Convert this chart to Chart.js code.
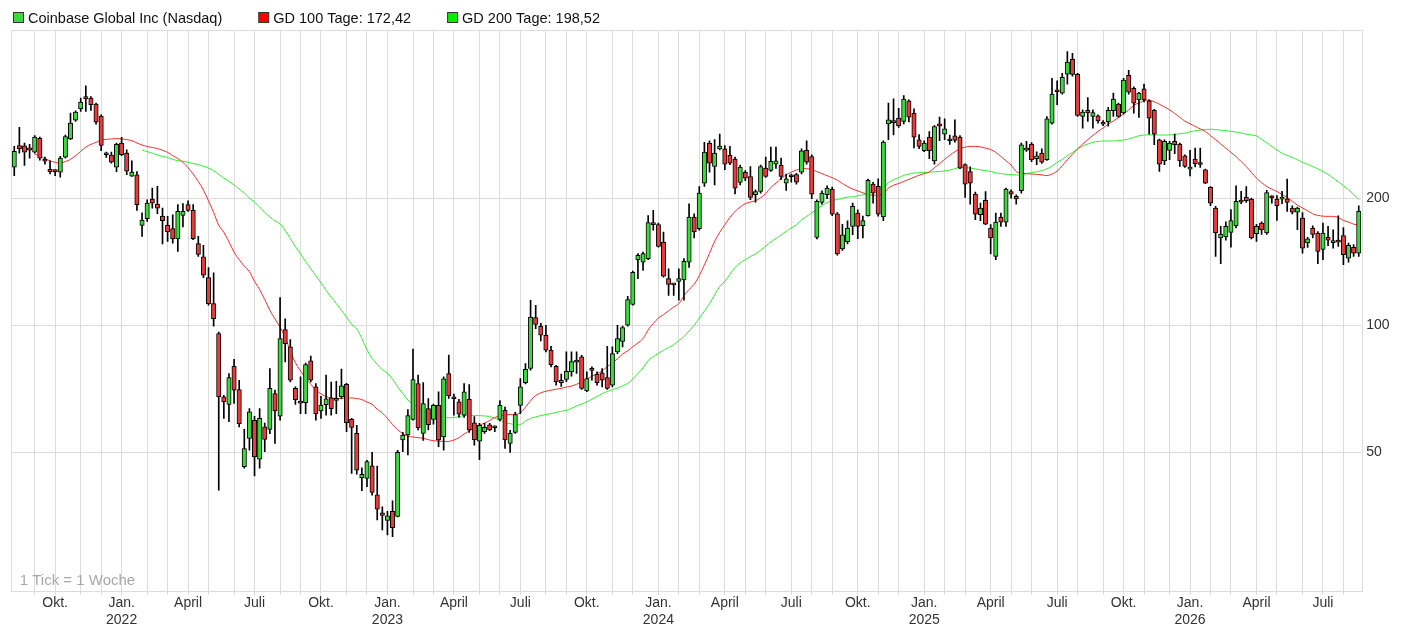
<!DOCTYPE html>
<html>
<head>
<meta charset="utf-8">
<script src="https://cdn.jsdelivr.net/npm/chart.js@4.4.1/dist/chart.umd.min.js"></script>
<style>
  html, body { margin: 0; padding: 0; background: #ffffff; }
  #wrap { width: 1410px; height: 634px; position: relative; }
</style>
</head>
<body>
<div id="wrap"><canvas id="c" width="1410" height="634"></canvas></div>
<script>
// ---------------- DATA ----------------
const startWeek = '2021-08-02';          // Monday of the first weekly candle
const seriesName = 'Coinbase Global Inc (Nasdaq)';
const ma100Name = 'GD 100 Tage';
const ma200Name = 'GD 200 Tage';
const noteText = '1 Tick = 1 Woche';
const quarterMonthLabels = { 0: 'Jan.', 3: 'April', 6: 'Juli', 9: 'Okt.' };
const yTickValues = [50, 100, 200];

const opens = [
236.8,266.4,266,263,256.9,277,246,234,231.5,230.4,
250,276,305.8,325.3,347.8,344.7,333.6,312.5,253.3,252.8,
236.8,270,255.5,225.4,227.1,172.4,178.7,198.9,193.5,181.3,
172.4,169.3,160,182,192.9,187,156,145.1,129.6,112.5,
95.6,67.7,65,80,70.4,46.3,54,59.6,48.2,57.5,
56.7,68.9,60.9,97.7,88.9,70.9,65.5,65.6,82.4,71.5,
62.7,64.9,67.3,66.5,67.7,72.5,59.9,55.5,43.6,43.4,
46.5,39.7,36,34.5,36.3,35.3,53.5,55,59.9,72.8,
55.5,63.5,59.9,64.6,54.4,76.9,67.2,65.9,61.3,66.9,
58.8,53.2,56,58.1,57.2,59.9,62.9,52.5,55.8,64.6,
73.1,79,104.3,99.5,94.7,87.3,80,73.1,74.4,77.6,
82.3,84.2,69.9,78.3,76.6,77.2,75.2,72.1,86.5,91.6,
100,112.1,143,141.1,143.8,174.9,173.2,157.4,128.9,124.8,
127,128,141.1,180.4,169.3,217,269.8,237.6,261.6,261.6,
252.4,247.2,217.8,230,225,203.7,207.3,235.5,232.5,240.6,
239.5,217,225,227.2,230.4,259.5,250.8,161.5,195.4,203.7,
210,183.5,151.5,157.8,171.3,184.3,172,181.6,215.8,213.1,
180.4,299.6,303,309.2,303.7,339.8,317.7,274.8,259,278.7,
245,297.6,283.5,274.3,280.8,278.7,239.9,231.2,204.4,182.6,
197.5,169.9,145.6,180.4,175.5,207.3,201.8,208.1,259.8,268.4,
247.9,255.4,246.4,300.9,358.2,354.3,392.8,426.3,392.8,311.9,
322.7,311.9,313,300.3,303.1,322,333.6,318.2,390.2,363.7,
341.6,362.5,339.8,322.8,274.8,245,259.3,272.3,268.4,251.8,
234.2,247.2,241,233.4,212.2,189.4,160.9,161.8,165.9,172,
197.2,201.1,198.9,164.7,174.5,165.3,201.1,198.9,198.9,199.3,
189.4,185.3,179.4,156.6,169.9,165.3,151.2,161.5,157.6,157.9,
163.1,144.2,153,148.2
];
const highs = [
265,294,270,268,281,279,250,245,233.4,251,
282,318,321.8,344.7,368.6,347.8,335.4,314.8,256.9,256.9,
270,278.3,260.2,245,231,184.6,198.2,211.2,213.2,189.4,
181,182.6,192.9,194,197,193,162.3,154.6,136.9,133,
96.3,68.3,76.9,83,74.1,56.7,63.5,60.9,63.5,58.7,
79,70.2,116.3,103.5,92.5,71.5,75.5,81.4,84.5,72.8,
67.9,76.2,73.4,73.7,78.8,72.9,60.2,58,46,47.9,
50,46.4,37.2,36.3,38.4,50.6,55.8,63.2,87.8,76.2,
73.2,67.1,65.1,69.6,75.5,85,68.7,66.8,72.8,72.4,
60.8,58.6,58.6,58.6,57.8,66.3,64,56.4,62.2,74.8,
81.2,114.6,111.5,101,100,89.2,80.4,76.6,86.5,86.5,
86.5,84.9,77.6,79.7,77.6,79,89.2,88.9,100,99.5,
117,134.4,147.7,149.1,181.8,187,174.4,166.2,136,125.4,
136,143.8,193.9,183.5,213,271,273.4,275,283.5,266.4,
265,250,239.4,232.3,237.6,209.2,239.4,250,264.2,264.2,
248.6,228,228,229,261.6,273.3,253,198.2,208,213.7,
212.3,184.8,173.4,176.6,194.7,187.7,181.2,221.8,217.8,222,
273.4,335.6,343.5,326.3,349.8,341.6,325.3,282.8,273.4,287.3,
296.8,310.9,308,282.1,306.5,281.2,241,237,206.6,194.6,
207.3,173,184.3,184.3,211.2,209.2,203.6,269.9,272.3,270.8,
257.4,261.4,311.9,384.2,378.8,394.6,444.4,440,394.6,323.3,
345.8,323.3,314.9,305.3,327.8,354.2,335.6,384.2,401.4,366.8,
356,372,341.6,324.5,276,274.8,272.3,283.5,269.8,253.3,
259.3,262.7,262.7,234.2,213,191.1,171.4,175.6,187.8,213.8,
207.4,213,200,173.3,175.6,208.5,202.6,202.6,207.4,221.8,
191.8,190.4,184.8,161.5,172,166.6,174.5,171.4,168.3,181.6,
170.2,156.6,155.2,191.8
];
const lows = [
226,255.5,239,248.6,255.5,246,240.6,228,226,224.2,
248.6,274.8,303.6,320.6,320.6,322.4,299.2,258.8,249.5,242,
231,251.9,227.1,225,187,162.3,176.2,189.4,183.6,155.8,
158,156.5,149.6,170.8,186,159.5,145.6,129.6,111.5,99.5,
40.7,60.2,59.1,65.3,57.5,45.9,50.6,44,45.9,50.2,
55.4,52.5,59.6,81.9,73.4,65,61.8,61.8,73.4,59.6,
60.2,61.3,61.3,61.8,67.1,56,44.6,44.4,40.6,41.5,
39.6,34.6,32.8,31.9,31.6,35.2,50.2,49.3,59.6,56.5,
53.4,56.5,58.3,51.6,50.6,67.1,61.3,60.5,60.5,55.8,
52,48.1,55.5,56.3,56,59.4,51.1,50,55.5,61.8,
72.6,78.3,98.2,91.8,86.5,79.7,72.1,71.7,73.5,75.8,
76.9,70.5,69.6,74.1,72.1,71.5,70.5,71.5,85.7,88.9,
99.5,111.5,128.9,134.9,143,167.8,153,130,117.7,117.7,
114.6,114.6,137.1,160.9,168,213,230.3,215,260,233.4,
240,204.7,215,219.8,198.2,195.7,205.5,223.9,231.3,235,
221,208.5,218.2,215.6,228,240.6,199.3,160,193.5,199.3,
181.7,146.6,150.3,155.7,163.8,160.3,161,181.2,194.6,181.2,
176.8,274.8,282,294,299.6,303,262.7,261.9,257.5,247.8,
240.6,273.4,274.8,268,271.3,234.7,200.7,193.5,177.9,176.8,
173,147.5,143,171.4,171.4,200,193.5,205.5,258,244,
239.9,241.6,245.6,299.2,332.5,352.4,372,388.6,311.9,292.9,
303.7,292.9,300.9,296.8,296.1,311.9,310.2,315.8,352.4,317.7,
310.2,337.8,283.5,267.4,231.2,239.9,246.4,254.7,237.6,236.4,
225.8,237,236.4,216.3,191.8,145.6,139.9,159,153,170,
193.9,195.3,160.1,158,164,164,194.6,177.1,193.9,185.9,
183.5,168.3,148.2,152.9,160.9,139.9,142.9,154.4,152.3,153.7,
139.1,141,145.6,145.6
];
const closes = [
257.9,261.6,256.9,259.8,279,248.6,244.6,231,231,248.6,
279.6,300.9,319.4,337.3,343.5,332.5,302.5,266.4,255,243.3,
268.2,253.3,231.7,230.4,192.9,177.4,194.6,194.6,189.4,176.8,
166.2,160,186,186,187,160.3,147.2,131.3,112.5,103.7,
67.7,65.9,75.2,70.2,58.5,51.1,62.4,48.8,60.2,53.7,
70.9,62.7,93,90.5,74.1,66.7,65.4,80.7,74.1,61.8,
64.7,67,63.5,66.4,71.9,58.8,57.3,45.4,44.4,47.6,
40.2,36.7,35.5,35.4,33.2,50,55,61.1,74.4,57.2,
65.3,58.2,64.6,53.5,74.7,68,67,61.6,69.6,56.5,
53.6,58,57.3,56.5,57.2,64.6,53.5,55.5,61.5,71.5,
78.6,104.6,100.4,94.7,87.3,80.7,73.5,74.1,77.8,82,
81.8,70.9,74.8,78.2,73.1,74.1,70.9,85.7,93,98.7,
115,133.5,146.4,147.7,174.9,172.9,153.7,130.6,125,124.6,
128.9,141.7,180.4,166.2,205.5,257,242,255.4,265.5,240.6,
242,211.1,236.8,223,200.7,207.3,237.6,225,244.2,245,
225,222.2,224.6,218.2,258.8,243.3,204.4,196.4,205.5,211.1,
183.3,147.5,163.8,169.8,191.1,171.4,176.8,220.2,205.5,183.3,
271.3,306.5,301.8,296.5,342.8,310.9,278.7,265,269.9,259,
295.4,296.5,291.7,273.4,274,235.5,215.8,217,183.3,189.4,
173.6,160.9,175.5,175.5,210,204.4,199,267.4,262.7,246.4,
251.8,243.3,308,352.4,357,386.4,419.4,392.3,313.6,319.4,
318.2,318.8,304.7,299.2,322.7,342.8,311.9,380.2,356,335.6,
354.2,341.6,309.2,283.5,240.6,272.3,269.8,267.4,245,237.6,
236.4,241,240.2,217,194.6,165.3,164.4,171.4,176.8,196.4,
195.7,197.2,160.9,171.4,168.3,206.2,200.3,191.8,200.7,195.3,
185.3,189.4,152.3,160.1,164,149.6,165.3,159,156.9,157.3,
146.9,154.6,148.2,186
];
const gd100 = [
null,null,null,null,254.6,251,248,245,243,242,
244,247,252,258,264,268,271,274,275.5,276,
276.5,276,275,273.5,270,267,265,263.5,262,259.5,
256.5,252,248,243,236,228,219,209,197,185,
172.5,166,157.5,149,143,138,134,127,121.5,115,
108.5,103.5,99,93.5,87,81.5,78,75,72.5,70.3,
68.8,67.8,67.3,67.1,67.1,67.3,67.3,67.1,66.7,65.8,
65,63.3,62,60.2,58.2,56.6,55.4,54.6,54.4,54.2,
54,53.6,53.3,53.2,53.1,53.1,53.5,54.2,55.3,56.2,
57.2,58,58.7,59.5,60.5,61,61.3,61.5,61.5,62,
64,66.3,68.2,69.2,69.8,70.2,70.6,70.9,71.4,71.8,
72.5,73.5,74.6,75.7,76.8,78,79.8,81.5,83.3,85.5,
87,89,90.8,93,97.5,101,104,106,108.2,110.5,
112.5,117.5,121.5,125,131,139,148,158,166,173,
180,186,190.5,194,195.8,197,200.5,205,212,217,
222.5,227,230.5,233,234.8,234.7,233.6,231,228.5,226,
223.5,220.5,216.5,213,210,208,205.8,204,203,203.2,
205,211,214.5,216.5,219,221.5,224,226.5,228.5,230.5,
236,241.5,247,252.5,257.5,261.6,264,265,265,264.3,
262.5,260.6,256.5,251,245,239.5,231,229,228.5,228,
227.6,227,226,228,231.5,238.5,246.5,254,261.5,268.5,
275,281.5,287.5,293,299,304.5,310,316.5,323.5,331.5,
336,340,341,338,333.5,328.5,323.5,317,310.5,304,
300,295.5,291.5,287.5,281,275,268.5,262.5,256.5,250.8,
244,237.5,230,223,217.5,213,210,207.3,204,200.5,
196.5,192.5,189.5,186.6,183.5,182,181.2,181,181,180,
177,175.5,173.5,172.42
];
const gd200 = [
null,null,null,null,null,null,null,null,null,null,
null,null,null,null,null,null,null,null,null,null,
null,null,null,null,null,260,257.5,255.5,253,251,
249.5,247,245.2,244.5,243,241.5,239.8,238,235.5,232,
227.5,223,219,214.8,210,205.5,200,195.5,190.5,185,
180.5,176.5,173.9,167.5,160.5,153.5,147.5,141.5,136,131,
126,121,116.5,112.5,108.5,104.5,100.5,98,93,87.5,
83.5,80.8,78.5,77,74.5,71.5,69,66.5,65,63.8,
62.8,62,61.4,60.9,60.6,60.4,60.5,60.8,61.1,61.2,
61.2,61.1,61,60.8,60.2,59.6,58.8,58.5,58.1,58.2,
59.3,60.2,60.7,61.1,61.5,61.8,62.2,62.6,62.9,63.6,
64.4,65.1,65.9,66.8,67.8,68.9,69.7,70.4,71,71.9,
72.8,74.6,76.9,79.3,82.5,84.3,85.8,87.3,88.6,90,
92,94,97,100,104,108,112.5,118,123.5,127.1,
132,137,140.5,143,145.5,147.5,150.5,154,157.5,160.5,
163.5,167,169.8,173,177.5,181,184.5,188.5,192,195,
197.2,198.5,199.8,201,201.5,202.5,203.5,205.5,207.5,209.2,
212.5,217.5,221,223.5,226.3,228,229.3,229.6,229.9,230.3,
230.8,231.2,232,233,234.8,236.4,236.2,235.5,234.5,233.2,
232.3,231.2,229.5,228.5,227.8,227.2,227,226.5,228.5,229.8,
230.8,232.5,234.5,238,243,247,252,256.5,261,265.5,
268.5,271,272.3,273,273,273,273.5,274.5,276,278.5,
280.8,282,282.1,282.1,282,282,282.1,283,284,285,
287,288.6,289.8,290.7,290.9,290.5,289.6,288.8,287.8,286.5,
285,283.5,282,280.8,275.5,270.5,265,260,255.4,252.5,
249.5,246.5,243,240.5,237.5,234.5,231.2,227.5,223,218.5,
214,209.2,204,198.52
];

// ---------------- derived (from the arrays above) ----------------
const FONT = '"Liberation Sans", Arial, Helvetica, sans-serif';
const COL_UP = '#3cd93c', COL_DOWN = '#ea3b3b';
const COL_MA100 = '#ff2a2a', COL_MA200 = '#2ef02e';
const GRID = '#dcdcdc';

const weekDates = opens.map((_, i) => {
  const d = new Date(startWeek + 'T00:00:00Z');
  d.setUTCDate(d.getUTCDate() + 7 * i);
  return d;
});
const labels = weekDates.map(d => d.toISOString().slice(0, 10));
// a week is a month start if it contains the 1st of a month (Mon..Sun)
const monthStartOf = weekDates.map(d => {
  for (let k = 0; k < 7; k++) {
    const e = new Date(d.getTime() + k * 86400000);
    if (e.getUTCDate() === 1) return { m: e.getUTCMonth(), y: e.getUTCFullYear() };
  }
  return null;
});

const fmtDE = v => v.toFixed(2).replace('.', ',');

const candleColors = opens.map((o, i) => closes[i] >= o ? COL_UP : COL_DOWN);

const frameAndText = {
  id: 'frameAndText',
  beforeDatasetsDraw(chart) {
    const { ctx, chartArea: a } = chart;
    ctx.save();
    ctx.strokeStyle = GRID;
    ctx.lineWidth = 1;
    ctx.strokeRect(Math.round(a.left) - 0.5, Math.round(a.top) + 0.5,
                   Math.round(a.right - a.left) + 1, Math.round(a.bottom - a.top));
    ctx.restore();
  },
  afterDraw(chart) {
    const { ctx, chartArea: a } = chart;
    ctx.save();
    ctx.font = '14.5px ' + FONT;
    ctx.textBaseline = 'middle';
    const items = [
      { text: seriesName, color: COL_UP },
      { text: ma100Name + ': ' + fmtDE(gd100[gd100.length - 1]), color: '#ff0000' },
      { text: ma200Name + ': ' + fmtDE(gd200[gd200.length - 1]), color: '#00ee00' }
    ];
    let x = 13;
    const yc = 18;
    items.forEach(it => {
      ctx.fillStyle = it.color;
      ctx.fillRect(x + 0.5, yc - 5.5, 10, 10);
      ctx.strokeStyle = '#333';
      ctx.lineWidth = 1;
      ctx.strokeRect(x + 0.5, yc - 5.5, 10, 10);
      ctx.fillStyle = '#111';
      ctx.fillText(it.text, x + 15, yc + 0.5);
      x += 15 + ctx.measureText(it.text).width + 36;
    });
    ctx.fillStyle = '#a8a8a8';
    ctx.font = '15px ' + FONT;
    ctx.textBaseline = 'alphabetic';
    ctx.fillText(noteText, a.left + 8, a.bottom - 6);
    ctx.restore();
  }
};

new Chart(document.getElementById('c'), {
  type: 'bar',
  data: {
    labels: labels,
    datasets: [
      {
        type: 'line', label: ma100Name, data: gd100,
        borderColor: COL_MA100, borderWidth: 1, pointRadius: 0, tension: 0.3,
        spanGaps: false, order: 3
      },
      {
        type: 'line', label: ma200Name, data: gd200,
        borderColor: COL_MA200, borderWidth: 1, pointRadius: 0, tension: 0.3,
        spanGaps: false, order: 3
      },
      {
        label: 'wick', data: lows.map((l, i) => [l, highs[i]]),
        backgroundColor: '#000', borderWidth: 0, barThickness: 1,
        grouped: false, order: 2
      },
      {
        label: seriesName, data: opens.map((o, i) => [o, closes[i]]),
        backgroundColor: candleColors, borderColor: '#000', borderWidth: 1,
        borderSkipped: false, barThickness: 4.4, minBarLength: 2,
        grouped: false, order: 1
      }
    ]
  },
  plugins: [frameAndText],
  options: {
    responsive: false,
    animation: false,
    devicePixelRatio: 1,
    layout: { padding: { left: 11.7, top: 30.3, right: 0, bottom: 0 } },
    plugins: { legend: { display: false }, tooltip: { enabled: false } },
    scales: {
      x: {
        type: 'category',
        offset: true,
        afterFit(scale) { scale.height = 43; },
        grid: {
          offset: false,
          drawTicks: true,
          tickLength: 4,
          lineWidth: 1,
          color: c => (monthStartOf[c.index] ? GRID : 'rgba(0,0,0,0)'),
          tickColor: c => (monthStartOf[c.index] ? GRID : 'rgba(0,0,0,0)')
        },
        border: { display: false },
        ticks: {
          autoSkip: false, maxRotation: 0, minRotation: 0, padding: 0,
          color: '#333', font: { family: FONT, size: 14 },
          callback(value, index) {
            const ms = monthStartOf[index];
            if (!ms || !(ms.m in quarterMonthLabels)) return '';
            const name = quarterMonthLabels[ms.m];
            return ms.m === 0 ? [name, String(ms.y)] : name;
          }
        }
      },
      y: {
        type: 'logarithmic',
        position: 'right',
        min: 23.5,
        max: 499,
        afterFit(scale) { scale.width = 48.7; },
        afterBuildTicks(scale) { scale.ticks = yTickValues.map(v => ({ value: v })); },
        grid: { color: GRID, lineWidth: 1, drawTicks: false },
        border: { display: false },
        ticks: {
          padding: 5, color: '#333', font: { family: FONT, size: 14 },
          callback: v => String(v)
        }
      }
    }
  }
});
</script>
</body>
</html>
